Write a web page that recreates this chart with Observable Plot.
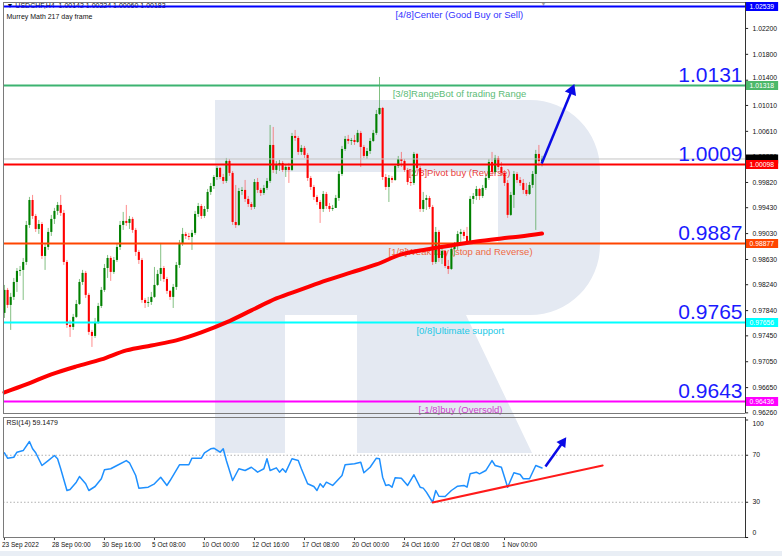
<!DOCTYPE html>
<html><head><meta charset="utf-8">
<script src="https://cdn.jsdelivr.net/npm/d3@7"></script>
<script src="https://cdn.jsdelivr.net/npm/@observablehq/plot@0.6"></script>
<style>
body{margin:0;background:#fff;width:782px;height:556px;overflow:hidden;position:relative;font-family:"Liberation Sans",Arial,sans-serif}
#wm{position:absolute;left:0;top:0;z-index:0}
#main{position:absolute;left:0;top:0;z-index:1}
#rsi{position:absolute;left:0;top:415px;z-index:1}
#strip{position:absolute;left:0;top:551px;width:782px;height:5px;background:#e9eef5}
</style></head><body>
<svg id="wm" width="782" height="556">
  <path fill="#e4e9f2" fill-rule="evenodd" d="M215,100 H530 A70,70 0 0 1 600,170 V245 A70,70 0 0 1 530,315 H466 L532,453 H357 V315 H285 V453 H215 Z M285,172 H498 V243 H285 Z"/>
</svg>
<div id="main"></div><div id="rsi"></div><div id="strip"></div>
<script>
// ---- price data (USDCHF H4), bar index 0..172 ----
const firstOpen = 0.97797;
const closes = [0.98152,0.9792,0.98044,0.98275,0.98446,0.98461,0.98584,0.99156,0.99542,0.99295,
0.99094,0.99171,0.98677,0.98816,0.99048,0.99249,0.99373,0.99465,0.99342,0.98584,
0.97611,0.9758,0.97735,0.97935,0.98275,0.98415,0.98075,0.97503,0.97441,0.97657,
0.97904,0.98152,0.98491,0.98646,0.9843,0.98615,0.98816,0.99156,0.99218,0.99187,
0.99249,0.99079,0.98739,0.98615,0.97997,0.97951,0.97966,0.98044,0.98229,0.98399,
0.98491,0.98321,0.98137,0.98044,0.98198,0.98538,0.98878,0.99017,0.98986,0.98971,
0.99033,0.99326,0.99449,0.99295,0.99403,0.99666,0.99758,0.99897,1.00037,0.99897,
0.99836,1.00145,0.9996,0.99202,0.99156,0.99681,0.99697,0.99558,0.9948,0.99434,
0.9982,0.99697,0.9965,0.99728,0.99836,1.00392,1.00006,1.00098,1.00114,1.00006,
1.00052,1.00006,1.00531,1.005,1.00284,1.00346,1.00238,0.99882,0.99743,0.99589,
0.99511,0.99403,0.99635,0.99449,0.99403,0.99419,0.99573,0.99944,1.0033,1.00485,
1.00454,1.00469,1.00438,1.00578,1.00361,1.00222,1.00299,1.00454,1.00578,1.00871,
1.00964,0.99897,0.99743,0.99882,0.99851,1.00068,1.00176,1.00145,1.00006,0.9982,
0.99805,1.00253,1.00037,0.99403,0.99542,0.99573,0.99434,0.98584,0.99048,0.98646,
0.98754,0.98522,0.98476,0.98785,0.98847,0.99017,0.99048,0.98986,0.98893,0.99558,
0.99604,0.99712,0.99604,0.99728,0.99882,1.00129,0.99975,1.00191,1.00052,0.9996,
0.99805,0.99311,0.9962,0.99944,0.99851,0.99805,0.99697,0.99635,0.99774,0.99944,
1.00253,1.00142,1.00183];
const highs = [0.98229,0.98183,0.98106,0.98337,0.98491,0.98522,0.98646,0.99218,0.99589,0.9962,
0.99326,0.99233,0.99202,0.98862,0.9911,0.99311,0.99419,0.99511,0.9962,0.99388,
0.98615,0.97688,0.97781,0.97997,0.98321,0.98461,0.98446,0.98106,0.97534,0.97719,
0.97951,0.98198,0.98553,0.98692,0.98677,0.98661,0.98862,0.99218,0.99357,0.99465,
0.99295,0.9928,0.9911,0.9877,0.98646,0.98028,0.98044,0.98121,0.98507,0.98461,
0.98878,0.98522,0.98353,0.98152,0.98244,0.98584,0.98924,0.9911,0.99048,0.99033,
0.99079,0.99373,0.99496,0.9948,0.99449,0.99712,0.99805,0.99928,1.00068,1.00052,
0.99944,1.00191,1.00176,0.9999,0.99774,0.99728,0.99743,0.99851,0.99604,0.99511,
0.99866,0.99882,0.99728,0.99774,0.99882,1.00701,1.0067,1.00145,1.0016,1.00145,
1.00098,1.00114,1.00578,1.00624,1.00531,1.00392,1.00377,1.00268,0.99913,0.99774,
0.9962,0.99542,0.99681,0.99666,0.99496,0.99465,0.9962,0.9999,1.00377,1.00531,
1.00547,1.005,1.00547,1.00624,1.00609,1.00392,1.00346,1.005,1.00624,1.00933,
1.01443,1.00979,0.99944,0.99928,0.99913,1.00098,1.00222,1.00284,1.00176,1.00037,
1.00021,1.00284,1.00268,1.00068,0.99666,0.9962,0.99604,0.99465,0.99125,0.99079,
0.988,0.9877,0.98615,0.98831,0.98893,0.99064,0.99094,0.99079,0.99125,0.99604,
0.9965,0.99758,0.99728,0.99774,0.99928,1.00176,1.00284,1.00238,1.00222,1.00129,
1.00006,0.99851,0.99666,0.9999,0.99975,0.99897,0.99866,0.99805,0.9982,0.9999,
1.00315,1.00392,1.00224];
const lows = [0.97719,0.97873,0.97534,0.97997,0.98121,0.98368,0.97997,0.98538,0.9911,0.99249,
0.99048,0.99017,0.9863,0.98461,0.9877,0.98986,0.99171,0.99311,0.99295,0.98538,
0.97565,0.97425,0.97534,0.97719,0.9792,0.98229,0.98028,0.97457,0.97271,0.9741,
0.97626,0.97873,0.98121,0.98337,0.98291,0.98399,0.98584,0.9877,0.99079,0.99141,
0.99094,0.99033,0.98677,0.98553,0.97951,0.97873,0.97889,0.9792,0.98028,0.98214,
0.98291,0.98275,0.9809,0.97997,0.97873,0.98152,0.98491,0.98831,0.9894,0.98924,
0.9877,0.99002,0.9928,0.99249,0.99264,0.99357,0.9962,0.99712,0.99851,0.99866,
0.99789,0.99805,0.99913,0.99156,0.9911,0.99141,0.9962,0.99511,0.99434,0.99388,
0.99403,0.9965,0.99604,0.9962,0.99697,0.99805,0.9996,0.99944,0.9999,0.99975,
0.99897,0.99805,0.9999,1.00454,1.00238,1.00238,1.00191,0.99836,0.99697,0.99542,
0.99465,0.99187,0.99357,0.99403,0.99357,0.99373,0.99419,0.99527,0.99913,1.00299,
1.00408,1.00392,1.00392,1.00423,1.00052,1.00191,1.00176,1.00253,1.00438,1.00547,
1.00856,0.99851,0.99697,0.99511,0.99805,0.99836,1.00037,1.00052,0.99975,0.99774,
0.99758,0.99774,0.9999,0.99357,0.99357,0.99388,0.99403,0.98538,0.98553,0.98584,
0.98553,0.98491,0.98399,0.98461,0.98677,0.9877,0.98893,0.9894,0.98847,0.98862,
0.9948,0.99542,0.99542,0.99573,0.99697,0.99851,0.99928,0.99944,1.00006,0.99913,
0.99758,0.99264,0.99295,0.99419,0.99805,0.99758,0.99635,0.99604,0.9962,0.99728,
0.99079,1.00068,1.0006];

// moving average (217) sampled at bars
const maBar = [0,7,15,23,31,39,47,55,63,71,79,87,95,103,111,119,127,135,143,151,159,165,172];
const maVal = [0.96576,0.96699,0.96854,0.96977,0.97085,0.97225,0.97302,0.97379,0.97503,0.97657,
0.97843,0.98028,0.98167,0.98306,0.9843,0.98553,0.98708,0.98785,0.98847,0.98909,0.98955,0.98986,0.99032];

// RSI(14)
const rsiBar = [0,1,3,4,6,8,9,10,12,14,16,17,18,20,21,23,24,26,27,29,31,32,34,36,39,40,42,43,46,48,
50,52,53,56,59,60,63,64,66,67,69,70,71,73,75,77,79,81,83,84,85,87,88,89,90,92,94,95,97,99,
100,101,102,103,105,108,109,112,114,115,117,119,120,121,122,123,124,125,127,129,131,133,134,135,137,138,139,141,143,145,
147,148,149,151,152,154,156,157,159,161,163,165,166,168,170,172];
const rsiVal = [72.1,67.5,68.3,72.6,74.0,81.7,75.5,72.1,61.3,65.5,69.8,67.0,58.5,40.0,40.9,47.1,51.9,45.7,40.0,43.4,
50.0,57.6,58.5,61.3,65.5,63.6,52.8,42.0,42.8,45.7,51.3,44.3,48.5,61.9,61.9,67.5,67.5,72.1,75.5,76.0,
72.6,75.5,65.5,48.5,58.5,57.0,59.8,55.6,58.5,67.0,57.0,59.3,55.6,58.5,55.6,67.0,65.5,58.5,45.7,43.4,
40.0,45.7,42.8,47.1,44.3,52.8,61.9,62.7,64.1,55.1,59.8,67.5,67.0,51.3,44.3,44.9,42.8,50.8,50.5,44.3,
53.4,42.8,42.0,38.6,30.0,40.0,35.1,34.9,40.0,43.7,44.3,42.8,54.2,55.6,54.2,57.0,65.5,61.3,59.8,42.8,
55.1,53.6,50.0,50.0,61.3,59.1];

// Murrey levels
const levelVals = [1.02539,1.01318,1.00098,0.98877,0.97656,0.96436];
const levelColors = ["#0000ff","#3cb371","#ff0000","#ff4500","#00ffff","#ff00ff"];
const levelBoxColors = ["#0000ff","#4cb86a","#ff0000","#ff4500","#00ffff","#ff00ff"];
const levelTexts = ["[4/8]Center (Good Buy or Sell)","[3/8]RangeBot of trading Range","[2/8]Pivot buy (Reverse)",
"[1/8]Weak buy (stop and Reverse)","[0/8]Ultimate support","[-1/8]buy (Oversold)"];
const levelTextColors = ["#3333ff","#5dbb77","#e84040","#ef6a45","#22c8e6","#cc44cc"];
const levelTextBar = [125.1,124.2,129.3,122.9,131.8,132.5];
const bigLabels = ["1.0131","1.0009","0.9887","0.9765","0.9643"];
const bidPrice = 1.00183;

// right axis
const axisTicks = [1.022,1.018,1.0101,1.0061,1.0022,0.9982,0.9943,0.9903,0.9863,0.9824,0.9784,0.9745,0.9705,0.9665,0.9626];
const axisTickNearBox = [1.014];
const rsiTicks = [100,70,30,0];
const dateBars = [0,16,32,48,64,80,96,112,128,144,160];
const dateLabels = ["23 Sep 2022","28 Sep 00:00","30 Sep 16:00","5 Oct 08:00","10 Oct 00:00","12 Oct 16:00",
"17 Oct 08:00","20 Oct 00:00","24 Oct 16:00","27 Oct 08:00","1 Nov 00:00"];

// annotations
const priceArrow = {x1:171.9, y1:1.00113, x2:181.5, y2:1.01241};
const rsiArrow = {x1:173.1, y1:60.4, x2:178.6, y2:80.9};
const rsiTrend = [{x:137, y:29.8},{x:191.4, y:61.3}];

const xDom = [-0.3, 237.1];
const xR = xDom[1];
const font = "Liberation Sans, Arial, sans-serif";

const bars = closes.map((c,i)=>({i, o: i===0 ? firstOpen : closes[i-1], c, h: highs[i], l: lows[i]}));
const up = d => d.c >= d.o;
const levels = levelVals.map((v,k)=>({v, c: levelColors[k], bc: levelBoxColors[k], t: levelTexts[k], tc: levelTextColors[k], tx: levelTextBar[k]}));
const bigs = bigLabels.map((t,k)=>({t, v: levelVals[k+1]}));
const ma = maBar.map((b,k)=>({x:b, y:maVal[k]}));
const rsi = rsiBar.map((b,k)=>({x:b, y:rsiVal[k]}));
const dates = dateBars.map((b,k)=>({x:b, t:dateLabels[k]}));

const main = Plot.plot({
  width: 782, height: 415,
  marginLeft: 3, marginRight: 37, marginTop: 2, marginBottom: 2,
  x: {domain: xDom, axis: null},
  y: {domain: [0.96250, 1.02601], axis: null},
  style: {background: "transparent", fontFamily: font, overflow: "visible"},
  marks: [
    Plot.text(["\u25BC USDCHF,H4  1.00142 1.00224 1.00060 1.00183"], {frameAnchor: "top-left", dx: 3, dy: 1, fontSize: 7, fill: "#111", lineAnchor: "top"}),
    Plot.text(["Murrey Math 217 day frame"], {frameAnchor: "top-left", dx: 3, dy: 12, fontSize: 7, fill: "#111", lineAnchor: "top"}),
    Plot.text(["\u25BC"], {x: 172.5, frameAnchor: "top", dy: -1, fontSize: 7, fill: "#a0a0a0", lineAnchor: "top"}),
    Plot.text(levels, {x: "tx", y: "v", text: "t", fill: "tc", textAnchor: "start", dy: 8, fontSize: 9.5}),
    Plot.ruleX(bars, {x: "i", y1: "l", y2: "h", stroke: d => up(d) ? "#1e8c1e" : "#ff3030", strokeOpacity: 0.55, strokeWidth: 1}),
    Plot.ruleX(bars, {x: "i", y1: "o", y2: "c", stroke: d => up(d) ? "#008000" : "#ff0000", strokeWidth: 2.1}),
    Plot.ruleY([bidPrice], {stroke: "#c4c4c4", strokeWidth: 1}),
    Plot.ruleY(levels, {y: "v", stroke: "c", strokeWidth: 2}),
    Plot.line(ma, {x: "x", y: "y", stroke: "#ff0000", strokeWidth: 4, curve: "monotone-x"}),
    Plot.text(bigs, {x: xR, y: "v", text: "t", textAnchor: "end", dx: -3, dy: -10, fontSize: 21, fill: "#1a1aff"}),
    Plot.link([priceArrow], {x1: "x1", y1: "y1", x2: "x2", y2: "y2", stroke: "#0a0ae6", strokeWidth: 2.5}),
    Plot.dot([priceArrow], {x: "x2", y: "y2", symbol: "triangle", r: 4.5, fill: "#0a0ae6", rotate: 22}),
    Plot.ruleY(axisTicks.concat(axisTickNearBox), {x1: xR, x2: xR + 1, stroke: "#222"}),
    Plot.text(axisTicks, {x: xR, y: d => d, text: d => d.toFixed(5), textAnchor: "start", dx: 7, fontSize: 6.8, fill: "#111"}),
    Plot.text(axisTickNearBox, {x: xR, y: d => d, text: d => d.toFixed(5), textAnchor: "start", dx: 7, dy: -2.5, fontSize: 6.8, fill: "#111"}),
    Plot.ruleY([bidPrice], {x1: xR, x2: xR + 10.6, stroke: "#000", strokeWidth: 9}),
    Plot.ruleY(levels, {y: "v", x1: xR, x2: xR + 10.6, stroke: "bc", strokeWidth: 9}),
    Plot.text(levels, {x: xR, y: "v", text: d => d.v.toFixed(5), textAnchor: "start", dx: 4, fontSize: 6.8, fill: "#fff"}),
    Plot.ruleY([0.96250, 1.02601], {stroke: "#7a7a7a"}),
    Plot.ruleX([xDom[0]], {stroke: "#7a7a7a"}),
    Plot.ruleX([xR], {stroke: "#333"})
  ]
});
document.getElementById("main").appendChild(main);

const rsiPlot = Plot.plot({
  width: 782, height: 141,
  marginLeft: 3, marginRight: 37, marginTop: 2, marginBottom: 19,
  x: {domain: xDom, axis: null},
  y: {domain: [0, 102.13], axis: null},
  style: {background: "transparent", fontFamily: font, overflow: "visible"},
  marks: [
    Plot.ruleY([30, 70], {stroke: "#b0b0b0", strokeDasharray: "1.5,2"}),
    Plot.line(rsi, {x: "x", y: "y", stroke: "#1e90ff", strokeWidth: 1.5}),
    Plot.line(rsiTrend, {x: "x", y: "y", stroke: "#ff1a1a", strokeWidth: 2}),
    Plot.link([rsiArrow], {x1: "x1", y1: "y1", x2: "x2", y2: "y2", stroke: "#0a0ae6", strokeWidth: 2.5}),
    Plot.dot([rsiArrow], {x: "x2", y: "y2", symbol: "triangle", r: 4, fill: "#0a0ae6", rotate: 35}),
    Plot.text(["RSI(14) 59.1479"], {frameAnchor: "top-left", dx: 3, dy: 3, fontSize: 7, fill: "#111", lineAnchor: "top"}),
    Plot.ruleY(rsiTicks, {x1: xR, x2: xR + 1, stroke: "#222"}),
    Plot.text([70, 30], {x: xR, y: d => d, text: d => String(d), textAnchor: "start", dx: 7, fontSize: 6.8, fill: "#111"}),
    Plot.text([100], {x: xR, y: d => d, text: d => String(d), textAnchor: "start", dx: 7, dy: 3.5, fontSize: 6.8, fill: "#111"}),
    Plot.text([0], {x: xR, y: d => d, text: d => String(d), textAnchor: "start", dx: 7, dy: -5, fontSize: 6.8, fill: "#111"}),
    Plot.ruleX(dates, {x: "x", y1: 0, y2: -2.6, stroke: "#333"}),
    Plot.text(dates, {x: "x", text: "t", frameAnchor: "bottom", textAnchor: "start", dx: -2.5, dy: 9, fontSize: 6.5, fill: "#111"}),
    Plot.ruleY([0, 102.13], {stroke: "#7a7a7a"}),
    Plot.ruleX([xDom[0]], {stroke: "#7a7a7a"}),
    Plot.ruleX([xR], {stroke: "#333"})
  ]
});
document.getElementById("rsi").appendChild(rsiPlot);
</script>
</body></html>
